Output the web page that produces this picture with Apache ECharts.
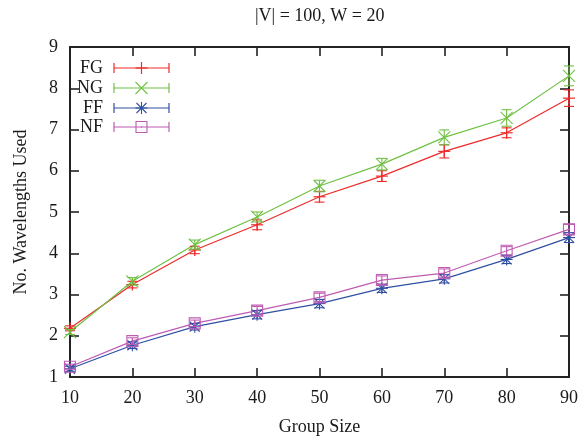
<!DOCTYPE html>
<html>
<head>
<meta charset="utf-8">
<script src="https://cdn.jsdelivr.net/npm/echarts@6/dist/echarts.min.js"></script>
<style>html,body{margin:0;padding:0;background:#fff}#c{width:581px;height:441px}</style>
</head>
<body>
<div id="c"></div>
<script>
// ---- data ----
const groupSizes = [10, 20, 30, 40, 50, 60, 70, 80, 90];
const seriesNames = ['FG', 'NG', 'FF', 'NF'];
const fgValues = [2.18, 3.24, 4.08, 4.69, 5.37, 5.87, 6.47, 6.92, 7.76];
const fgErrors = [0.06, 0.08, 0.09, 0.12, 0.13, 0.13, 0.16, 0.12, 0.2];
const ngValues = [2.09, 3.32, 4.21, 4.88, 5.63, 6.16, 6.81, 7.28, 8.3];
const ngErrors = [0.06, 0.09, 0.11, 0.12, 0.14, 0.14, 0.18, 0.2, 0.24];
const ffValues = [1.2, 1.77, 2.22, 2.51, 2.78, 3.15, 3.38, 3.85, 4.38];
const ffErrors = [0.06, 0.08, 0.08, 0.1, 0.1, 0.1, 0.1, 0.1, 0.12];
const nfValues = [1.25, 1.87, 2.3, 2.61, 2.93, 3.35, 3.52, 4.06, 4.58];
const nfErrors = [0.06, 0.08, 0.08, 0.1, 0.1, 0.1, 0.1, 0.1, 0.12];
const xTicks = [10, 20, 30, 40, 50, 60, 70, 80, 90];
const yTicks = [1, 2, 3, 4, 5, 6, 7, 8, 9];

const colors = {FG: '#ee2a2a', NG: '#6fc044', FF: '#2f4fa3', NF: '#bf5bb3'};
const markers = {FG: 'plus', NG: 'cross', FF: 'star', NF: 'square'};
const values = {FG: fgValues, NG: ngValues, FF: ffValues, NF: nfValues};
const errors = {FG: fgErrors, NG: ngErrors, FF: ffErrors, NF: nfErrors};
const FONT = "'Liberation Serif', 'DejaVu Serif', serif";
const TXT = '#1a1a1a';

function seg(x1, y1, x2, y2, color, w) {
  return {type: 'line', shape: {x1, y1, x2, y2}, style: {stroke: color, lineWidth: w || 1.1}, silent: true};
}
function markerShapes(kind, cx, cy, color) {
  const out = [];
  if (kind === 'plus') {
    out.push(seg(cx - 6, cy, cx + 6, cy, color, 1.2), seg(cx, cy - 6, cx, cy + 6, color, 1.2));
  } else if (kind === 'cross') {
    out.push(seg(cx - 6, cy - 6, cx + 6, cy + 6, color, 1.1), seg(cx - 6, cy + 6, cx + 6, cy - 6, color, 1.1));
  } else if (kind === 'star') {
    out.push(seg(cx - 5, cy - 5, cx + 5, cy + 5, color, 1.1), seg(cx - 5, cy + 5, cx + 5, cy - 5, color, 1.1),
             seg(cx, cy - 6, cx, cy + 6, color, 1.1), seg(cx - 6, cy, cx + 6, cy, color, 1.1));
  } else if (kind === 'square') {
    out.push({type: 'rect', shape: {x: cx - 5.5, y: cy - 5.5, width: 11, height: 11},
              style: {fill: 'none', stroke: color, lineWidth: 1.1}, silent: true});
    out.push({type: 'rect', shape: {x: cx - 0.6, y: cy - 0.6, width: 1.2, height: 1.2}, style: {fill: color}, silent: true});
  }
  return out;
}

const series = [];
seriesNames.forEach(name => {
  const c = colors[name];
  series.push({
    name: name, type: 'line', xAxisIndex: 0, yAxisIndex: 0,
    data: groupSizes.map((x, i) => [x, values[name][i]]),
    symbol: 'none', lineStyle: {color: c, width: 1.2}, itemStyle: {color: c},
    animation: false, silent: true, z: 2
  });
  series.push({
    name: name + '_err', type: 'custom', xAxisIndex: 0, yAxisIndex: 0,
    data: groupSizes.map((x, i) => [x, values[name][i], errors[name][i]]),
    clip: false, animation: false, silent: true, z: 3,
    renderItem: function (params, api) {
      const x = api.value(0), y = api.value(1), e = api.value(2);
      const p = api.coord([x, y]);
      const pt = api.coord([x, y + e]);
      const pb = api.coord([x, y - e]);
      const ch = [
        seg(p[0], pt[1], p[0], pb[1], c, 1.1),
        seg(p[0] - 5, pt[1], p[0] + 5, pt[1], c, 1.1),
        seg(p[0] - 5, pb[1], p[0] + 5, pb[1], c, 1.1)
      ].concat(markerShapes(markers[name], p[0], p[1], c));
      return {type: 'group', children: ch};
    }
  });
});

// legend (gnuplot style: label on the left, error-bar sample on the right)
const legendRows = [68, 88, 108, 127];
const legendChildren = [];
seriesNames.forEach((name, i) => {
  const y = legendRows[i], c = colors[name];
  legendChildren.push({type: 'text', style: {text: name, x: 103, y: y, textAlign: 'right', textVerticalAlign: 'middle',
    font: "18px " + FONT, fill: TXT}, silent: true});
  legendChildren.push(seg(114, y, 169, y, c, 1.2), seg(114, y - 5, 114, y + 5, c, 1.2), seg(169, y - 5, 169, y + 5, c, 1.2));
  markerShapes(markers[name], 141.5, y, c).forEach(s => legendChildren.push(s));
});

const axisLineStyle = {color: '#222', width: 2};
const tickStyle = {color: '#222', width: 1.6};
const labelStyle = {fontFamily: FONT, fontSize: 18, color: TXT};

const option = {
  animation: false,
  backgroundColor: '#fff',
  graphic: [
    {type: 'text', left: 255, top: 7, silent: true,
     style: {text: '|V| = 100, W = 20', font: "18px " + FONT, fill: TXT}},
    {type: 'group', children: legendChildren, z: 10}
  ],
  grid: {left: 70, right: 8, top: 47, bottom: 64, containLabel: false},
  xAxis: [{
    type: 'value', position: 'bottom', min: 10, max: 90, interval: 10,
    name: 'Group Size', nameLocation: 'middle', nameGap: 41,
    nameTextStyle: {fontFamily: FONT, fontSize: 18, color: TXT},
    axisLine: {show: true, lineStyle: axisLineStyle},
    axisTick: {show: true, inside: true, length: 9, lineStyle: tickStyle},
    axisLabel: Object.assign({margin: 12, formatter: v => xTicks.includes(v) ? String(v) : ''}, labelStyle),
    splitLine: {show: false}
  }, {
    type: 'value', position: 'top', min: 10, max: 90, interval: 10,
    axisLine: {show: true, onZero: false, lineStyle: axisLineStyle},
    axisTick: {show: true, inside: true, length: 9, lineStyle: tickStyle},
    axisLabel: {show: false}, splitLine: {show: false}
  }],
  yAxis: [{
    type: 'value', position: 'left', min: 1, max: 9, interval: 1,
    name: 'No. Wavelengths Used', nameLocation: 'middle', nameGap: 40, nameRotate: 90,
    nameTextStyle: {fontFamily: FONT, fontSize: 18, color: TXT},
    axisLine: {show: true, lineStyle: axisLineStyle},
    axisTick: {show: true, inside: true, length: 9, lineStyle: tickStyle},
    axisLabel: Object.assign({margin: 12, formatter: v => yTicks.includes(v) ? String(v) : ''}, labelStyle),
    splitLine: {show: false}
  }, {
    type: 'value', position: 'right', min: 1, max: 9, interval: 1,
    axisLine: {show: true, onZero: false, lineStyle: axisLineStyle},
    axisTick: {show: true, inside: true, length: 9, lineStyle: tickStyle},
    axisLabel: {show: false}, splitLine: {show: false}
  }],
  series: series
};

const chart = echarts.init(document.getElementById('c'), null, {renderer: 'canvas'});
chart.setOption(option);
</script>
</body>
</html>
